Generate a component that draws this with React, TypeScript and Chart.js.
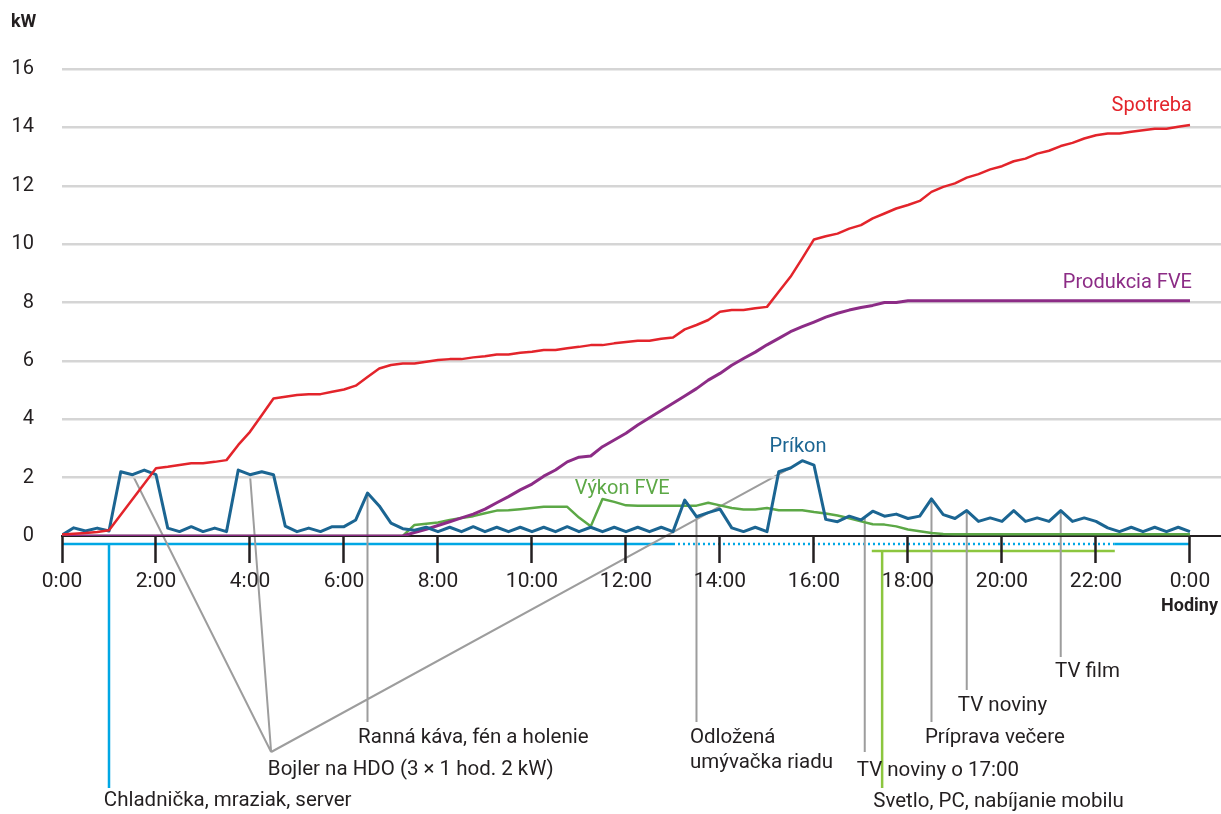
import React, { useEffect, useRef } from 'react';
import { Chart, registerables } from 'chart.js';

Chart.register(...registerables);

const FONT = 'Roboto, "Noto Sans", "DejaVu Sans", sans-serif';
const TEXT = '#231f20';

// Samples every 15 minutes from 0:00 to 24:00 (97 values)
const STEP_HOURS = 0.25;

const xTickHours = [0, 2, 4, 6, 8, 10, 12, 14, 16, 18, 20, 22, 24];
const xTickLabels = ['0:00', '2:00', '4:00', '6:00', '8:00', '10:00', '12:00', '14:00', '16:00', '18:00', '20:00', '22:00', '0:00'];
const yTickValues = [0, 2, 4, 6, 8, 10, 12, 14, 16];

const spotreba = [
  0.05, 0.08, 0.1, 0.14, 0.2, 0.73, 1.26, 1.79, 2.32, 2.37, 2.43, 2.49, 2.49, 2.54, 2.6, 3.12,
  3.57, 4.14, 4.71, 4.77, 4.83, 4.86, 4.86, 4.94, 5.02, 5.15, 5.45, 5.74, 5.86, 5.91, 5.91, 5.97,
  6.03, 6.06, 6.06, 6.12, 6.16, 6.22, 6.22, 6.28, 6.31, 6.37, 6.37, 6.43, 6.48, 6.54, 6.54, 6.6,
  6.65, 6.69, 6.69, 6.76, 6.8, 7.08, 7.23, 7.4, 7.68, 7.74, 7.74, 7.8, 7.85, 8.37, 8.88, 9.51,
  10.16, 10.27, 10.36, 10.53, 10.65, 10.88, 11.05, 11.22, 11.34, 11.48, 11.79, 11.96, 12.08, 12.28, 12.4, 12.56,
  12.67, 12.84, 12.93, 13.1, 13.2, 13.36, 13.47, 13.62, 13.73, 13.79, 13.79, 13.85, 13.9, 13.95, 13.95, 14.02,
  14.08,
];

const produkciaFVE = [
  0, 0, 0, 0, 0, 0, 0, 0, 0, 0, 0, 0, 0, 0, 0, 0,
  0, 0, 0, 0, 0, 0, 0, 0, 0, 0, 0, 0, 0, 0, 0.12, 0.23,
  0.36, 0.49, 0.62, 0.75, 0.92, 1.14, 1.35, 1.58, 1.78, 2.05, 2.26, 2.54, 2.7, 2.74, 3.06, 3.29,
  3.52, 3.8, 4.05, 4.3, 4.55, 4.8, 5.05, 5.34, 5.57, 5.85, 6.08, 6.3, 6.55, 6.77, 7.0, 7.17,
  7.33, 7.5, 7.63, 7.74, 7.83, 7.9, 8.0, 8.0, 8.06, 8.06, 8.06, 8.06, 8.06, 8.06, 8.06, 8.06,
  8.06, 8.06, 8.06, 8.06, 8.06, 8.06, 8.06, 8.06, 8.06, 8.06, 8.06, 8.06, 8.06, 8.06, 8.06, 8.06,
  8.06,
];

const prikon = [
  0.03, 0.28, 0.17, 0.27, 0.17, 2.2, 2.1, 2.26, 2.1, 0.27, 0.15, 0.32, 0.15, 0.27, 0.15, 2.26,
  2.1, 2.2, 2.1, 0.34, 0.15, 0.27, 0.15, 0.32, 0.32, 0.55, 1.47, 1.03, 0.44, 0.25, 0.2, 0.3,
  0.15, 0.3, 0.15, 0.32, 0.15, 0.3, 0.15, 0.3, 0.15, 0.3, 0.15, 0.32, 0.15, 0.3, 0.15, 0.3,
  0.15, 0.3, 0.15, 0.3, 0.15, 1.23, 0.66, 0.8, 0.92, 0.28, 0.15, 0.3, 0.15, 2.2, 2.33, 2.58,
  2.43, 0.57, 0.49, 0.68, 0.55, 0.85, 0.68, 0.75, 0.6, 0.68, 1.27, 0.73, 0.6, 0.87, 0.5, 0.62,
  0.5, 0.87, 0.5, 0.62, 0.5, 0.87, 0.5, 0.62, 0.5, 0.28, 0.15, 0.3, 0.15, 0.3, 0.15, 0.3,
  0.15,
];

const vykonFVE = [
  0, 0, 0, 0, 0, 0, 0, 0, 0, 0, 0, 0, 0, 0, 0, 0,
  0, 0, 0, 0, 0, 0, 0, 0, 0, 0, 0, 0, 0, 0, 0.38, 0.42,
  0.46, 0.55, 0.62, 0.68, 0.78, 0.87, 0.88, 0.92, 0.96, 1.0, 1.0, 1.0, 0.63, 0.33, 1.27, 1.17,
  1.05, 1.04, 1.04, 1.04, 1.04, 1.04, 1.04, 1.14, 1.05, 0.96, 0.91, 0.91, 0.96, 0.88, 0.88, 0.88,
  0.82, 0.77, 0.7, 0.61, 0.5, 0.4, 0.39, 0.33, 0.22, 0.16, 0.1, 0.07, 0.06, 0.06, 0.06, 0.06,
  0.06, 0.06, 0.06, 0.06, 0.06, 0.06, 0.06, 0.06, 0.06, 0.06, 0.06, 0.06, 0.06, 0.06, 0.06, 0.06,
  0.06,
];

const seriesNames = ['Spotreba', 'Produkcia FVE', 'Príkon', 'Výkon FVE'];
const seriesColors = ['#e3242b', '#8c2c86', '#1b6592', '#5ca846'];

const COLOR_GRAY = '#9d9d9d';
const COLOR_CYAN = '#00a7e4';
const COLOR_LIGHTGREEN = '#8cc63f';

const toPoints = (arr: number[]) => arr.map((v, i) => ({ x: i * STEP_HOURS, y: v }));

const valueAt = (arr: number[], h: number) => {
  const p = h / STEP_HOURS;
  const i0 = Math.floor(p);
  const i1 = Math.min(i0 + 1, arr.length - 1);
  return arr[i0] + (arr[i1] - arr[i0]) * (p - i0);
};

const annotationPlugin = {
  id: 'energyAnnotations',
  beforeDraw(chart: any) {
    const { ctx, scales } = chart;
    const X = (h: number) => scales.x.getPixelForValue(h);
    const Y = (v: number) => scales.y.getPixelForValue(v);
    const base = Y(0);
    ctx.save();
    ctx.lineCap = 'butt';

    // Fridge / freezer / server – constant load line
    const cy = base + 8;
    ctx.strokeStyle = COLOR_CYAN;
    ctx.lineWidth = 2.5;
    ctx.beginPath();
    ctx.moveTo(X(0), cy);
    ctx.lineTo(X(13), cy);
    ctx.moveTo(X(22.4), cy);
    ctx.lineTo(X(24), cy);
    ctx.moveTo(X(1), cy);
    ctx.lineTo(X(1), base + 252);
    ctx.stroke();
    ctx.setLineDash([2, 3]);
    ctx.beginPath();
    ctx.moveTo(X(13), cy);
    ctx.lineTo(X(22.4), cy);
    ctx.stroke();
    ctx.setLineDash([]);

    // Light, PC, phone charging
    const gy = base + 15;
    ctx.strokeStyle = COLOR_LIGHTGREEN;
    ctx.lineWidth = 2.5;
    ctx.beginPath();
    ctx.moveTo(X(17.23), gy);
    ctx.lineTo(X(22.4), gy);
    ctx.moveTo(X(17.45), gy);
    ctx.lineTo(X(17.45), base + 252);
    ctx.stroke();

    // Gray callout lines
    ctx.strokeStyle = COLOR_GRAY;
    ctx.lineWidth = 2;
    const drops = [
      { h: 6.5, bottom: 186 },
      { h: 13.5, bottom: 186 },
      { h: 17.08, bottom: 216 },
      { h: 18.5, bottom: 186 },
      { h: 19.25, bottom: 154 },
      { h: 21.25, bottom: 121 },
    ];
    ctx.beginPath();
    drops.forEach((d) => {
      ctx.moveTo(X(d.h), Y(valueAt(prikon, d.h)));
      ctx.lineTo(X(d.h), base + d.bottom);
    });
    const cx = X(4.45);
    const cyy = base + 216;
    [1.5, 4.0, 15.5].forEach((h) => {
      ctx.moveTo(cx, cyy);
      ctx.lineTo(X(h), Y(valueAt(prikon, h)));
    });
    ctx.stroke();
    ctx.restore();
  },
  afterDraw(chart: any) {
    const { ctx, scales } = chart;
    const X = (h: number) => scales.x.getPixelForValue(h);
    const Y = (v: number) => scales.y.getPixelForValue(v);
    const base = Y(0);
    ctx.save();
    ctx.textBaseline = 'middle';

    // axis titles
    ctx.fillStyle = TEXT;
    ctx.font = `bold 18px ${FONT}`;
    ctx.textAlign = 'left';
    ctx.fillText('kW', 11, 22);
    ctx.textAlign = 'right';
    ctx.fillText('Hodiny', chart.width - 3, base + 70);

    // series labels
    ctx.font = `20px ${FONT}`;
    ctx.textAlign = 'right';
    ctx.fillStyle = seriesColors[0];
    ctx.fillText(seriesNames[0], X(24) + 2, Y(spotreba[spotreba.length - 1]) - 19);
    ctx.fillStyle = seriesColors[1];
    ctx.fillText(seriesNames[1], X(24) + 2, Y(produkciaFVE[produkciaFVE.length - 1]) - 18);
    ctx.textAlign = 'center';
    ctx.fillStyle = seriesColors[2];
    ctx.fillText(seriesNames[2], X(15.66), Y(2.58) - 14);
    ctx.textAlign = 'left';
    ctx.fillStyle = seriesColors[3];
    ctx.fillText(seriesNames[3], X(10.91), Y(1.6));

    // callout texts
    ctx.fillStyle = TEXT;
    ctx.font = `20.5px ${FONT}`;
    ctx.textAlign = 'left';
    const notes = [
      { t: 'Chladnička, mraziak, server', h: 0.89, dy: 265 },
      { t: 'Bojler na HDO (3 × 1 hod. 2 kW)', h: 4.38, dy: 234 },
      { t: 'Ranná káva, fén a holenie', h: 6.3, dy: 202 },
      { t: 'Odložená', h: 13.36, dy: 202 },
      { t: 'umývačka riadu', h: 13.36, dy: 227 },
      { t: 'TV noviny o 17:00', h: 16.91, dy: 235 },
      { t: 'Svetlo, PC, nabíjanie mobilu', h: 17.26, dy: 266 },
      { t: 'Príprava večere', h: 18.36, dy: 202 },
      { t: 'TV noviny', h: 19.06, dy: 170 },
      { t: 'TV film', h: 21.13, dy: 136 },
    ];
    notes.forEach((n) => ctx.fillText(n.t, X(n.h), base + n.dy));
    ctx.restore();
  },
};

export default function App() {
  const canvasRef = useRef<HTMLCanvasElement | null>(null);

  useEffect(() => {
    document.body.style.margin = '0';
    document.body.style.background = '#ffffff';
    const canvas = canvasRef.current;
    if (!canvas) return;
    const series = [spotreba, prikon, produkciaFVE, vykonFVE];
    const names = [seriesNames[0], seriesNames[2], seriesNames[1], seriesNames[3]];
    const colors = [seriesColors[0], seriesColors[2], seriesColors[1], seriesColors[3]];
    const widths = [2.5, 3, 3, 2.5];

    const chart = new Chart(canvas, {
      type: 'line',
      data: {
        datasets: series.map((s, i) => ({
          label: names[i],
          data: toPoints(s),
          borderColor: colors[i],
          backgroundColor: colors[i],
          borderWidth: widths[i],
          pointRadius: 0,
          tension: 0,
          fill: false,
          borderJoinStyle: 'round' as const,
        })),
      },
      options: {
        responsive: false,
        animation: false,
        devicePixelRatio: 1,
        layout: { padding: { top: 69, right: 0, bottom: 218, left: 0 } },
        plugins: {
          legend: { display: false },
          tooltip: { enabled: false },
        },
        scales: {
          x: {
            type: 'linear',
            min: 0,
            max: 24.66,
            afterBuildTicks: (scale: any) => {
              scale.ticks = xTickHours.map((v) => ({ value: v }));
            },
            afterFit: (scale: any) => {
              scale.height = 60;
            },
            ticks: {
              autoSkip: false,
              maxRotation: 0,
              padding: 6,
              color: TEXT,
              font: { family: FONT, size: 21 },
              callback: (_v: any, i: number) => xTickLabels[i],
            },
            grid: {
              drawOnChartArea: false,
              drawTicks: true,
              tickLength: 27,
              tickColor: '#231f20',
              tickWidth: 2.5,
            },
            border: { display: true, color: '#231f20', width: 2 },
          },
          y: {
            type: 'linear',
            min: 0,
            max: 16,
            afterBuildTicks: (scale: any) => {
              scale.ticks = yTickValues.map((v) => ({ value: v }));
            },
            afterFit: (scale: any) => {
              scale.width = 62;
            },
            ticks: {
              padding: 28,
              color: TEXT,
              font: { family: FONT, size: 20 },
              callback: (v: any) => String(v),
            },
            grid: {
              drawTicks: false,
              color: (c: any) => (c.tick && c.tick.value === 0 ? 'rgba(0,0,0,0)' : '#d5d5d5'),
              lineWidth: 2.5,
            },
            border: { display: false },
          },
        },
      },
      plugins: [annotationPlugin],
    });
    return () => chart.destroy();
  }, []);

  return (
    <div style={{ width: 1221, height: 814, background: '#fff' }}>
      <canvas ref={canvasRef} width={1221} height={814} style={{ display: 'block', width: 1221, height: 814 }} />
    </div>
  );
}
